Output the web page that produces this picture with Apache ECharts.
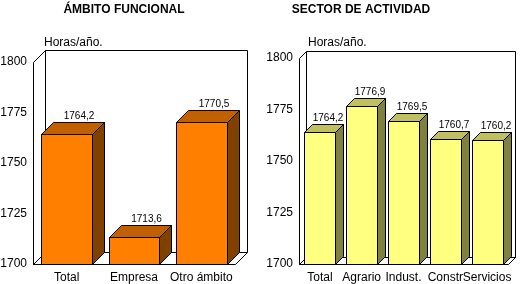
<!DOCTYPE html>
<html><head><meta charset="utf-8">
<script src="https://cdn.jsdelivr.net/npm/echarts@6/dist/echarts.min.js"></script>
<style>html,body{margin:0;padding:0;background:#fff}#c{width:522px;height:284px}</style>
</head><body><div id="c"></div>
<script>
const catsLeft = ['Total', 'Empresa', 'Otro ámbito'];
const valsLeft = [1764.2, 1713.6, 1770.5];
const catsRight = ['Total', 'Agrario', 'Indust.', 'Constr', 'Servicios'];
const valsRight = [1764.2, 1776.9, 1769.5, 1760.7, 1760.2];
const yTicks = [1700, 1725, 1750, 1775, 1800];
const titleLeft = 'ÁMBITO FUNCIONAL';
const titleRight = 'SECTOR DE ACTIVIDAD';
const unitName = 'Horas/año.';

const FONT = 'Liberation Sans, Arial, sans-serif';
const yMin = yTicks[0], yMax = yTicks[yTicks.length - 1];
const fmt = v => v.toFixed(1).replace('.', ',');

function wallSeries(idx, d) {
  return {
    type: 'custom', xAxisIndex: idx, yAxisIndex: idx, silent: true, z: 1,
    data: [[0, yMin]],
    renderItem: function (params, api) {
      const cs = params.coordSys;
      const x0 = Math.round(cs.x) + 0.5, x1 = Math.round(cs.x + cs.width) + 0.5;
      const y0 = Math.round(cs.y) + 0.5, y1 = Math.round(cs.y + cs.height) + 0.5;
      const st = { fill: '#fff', stroke: '#000', lineWidth: 1 };
      return { type: 'group', children: [
        { type: 'polygon', shape: { points: [[x0 + d, y0 - d], [x1 + d, y0 - d], [x1 + d, y1 - d], [x0 + d, y1 - d]] }, style: st },
        { type: 'polygon', shape: { points: [[x0, y0], [x0 + d, y0 - d], [x0 + d, y1 - d], [x0, y1]] }, style: st },
        { type: 'polygon', shape: { points: [[x0, y1], [x0 + d, y1 - d], [x1 + d, y1 - d], [x1, y1]] }, style: st }
      ] };
    }
  };
}

function barSeries(idx, vals, d, frac, cFront, cTop, cSide) {
  return {
    type: 'custom', xAxisIndex: idx, yAxisIndex: idx, silent: true, z: 2,
    data: vals.map((v, i) => [i, v]),
    renderItem: function (params, api) {
      const top = api.coord([api.value(0), api.value(1)]);
      const bot = api.coord([api.value(0), yMin]);
      const bw = api.size([1, 0])[0] * frac;
      const xl = Math.round(top[0] - bw / 2) + 0.5, xr = Math.round(top[0] + bw / 2) + 0.5;
      const yt = Math.round(top[1]) + 0.5, yb = Math.round(bot[1]) + 0.5;
      const ln = { stroke: '#000', lineWidth: 1 };
      return { type: 'group', children: [
        { type: 'polygon', shape: { points: [[xr, yt], [xr + d, yt - d], [xr + d, yb - d], [xr, yb]] }, style: Object.assign({ fill: cSide }, ln) },
        { type: 'polygon', shape: { points: [[xl, yt], [xl + d, yt - d], [xr + d, yt - d], [xr, yt]] }, style: Object.assign({ fill: cTop }, ln) },
        { type: 'rect', shape: { x: xl, y: yt, width: xr - xl, height: yb - yt }, style: Object.assign({ fill: cFront }, ln) },
        { type: 'text', x: (xl + xr) / 2 + d, y: yt - d - 1,
          style: { text: fmt(api.value(1)), fill: '#000', font: '10px ' + FONT, textAlign: 'center', textVerticalAlign: 'bottom' } }
      ] };
    }
  };
}

function xAx(idx, cats) {
  return { type: 'category', gridIndex: idx, data: cats,
    axisLine: { show: false }, axisTick: { show: false }, splitLine: { show: false },
    axisLabel: { interval: 0, hideOverlap: false, color: '#000', fontSize: 12, fontFamily: FONT, margin: 8 } };
}
function yAx(idx, gap, off) {
  return { type: 'value', gridIndex: idx, min: yMin, max: yMax, interval: 25,
    axisLine: { show: false }, axisTick: { show: false }, splitLine: { show: false },
    axisLabel: { color: '#000', fontSize: 12, fontFamily: FONT, margin: 6, formatter: v => String(v) },
    name: unitName, nameLocation: 'end', nameGap: gap,
    nameTextStyle: { color: '#000', fontSize: 12, fontFamily: FONT, align: 'left', verticalAlign: 'middle', padding: [0, 0, 0, off] } };
}

const chart = echarts.init(document.getElementById('c'), null, { renderer: 'canvas' });
chart.setOption({
  animation: false,
  backgroundColor: '#fff',
  title: [
    { text: titleLeft, left: 124, top: 4, textAlign: 'center', padding: 0,
      textStyle: { fontSize: 12, fontWeight: 'bold', color: '#000', fontFamily: 'Liberation Sans Narrow, ' + FONT } },
    { text: titleRight, left: 361, top: 4, textAlign: 'center', padding: 0,
      textStyle: { fontSize: 12, fontWeight: 'bold', color: '#000', fontFamily: 'Liberation Sans Narrow, ' + FONT } }
  ],
  grid: [
    { left: 33, top: 62, width: 202, height: 202, containLabel: false, outerBoundsMode: 'none' },
    { left: 299, top: 58, width: 209, height: 206, containLabel: false, outerBoundsMode: 'none' }
  ],
  xAxis: [xAx(0, catsLeft), xAx(1, catsRight)],
  yAxis: [yAx(0, 19, 11), yAx(1, 15, 9)],
  series: [
    wallSeries(0, 12),
    barSeries(0, valsLeft, 12, 0.757, '#FF8000', '#C06000', '#804000'),
    wallSeries(1, 7),
    barSeries(1, valsRight, 8, 0.74, '#FFFF80', '#C0C060', '#808040')
  ]
});
</script></body></html>
